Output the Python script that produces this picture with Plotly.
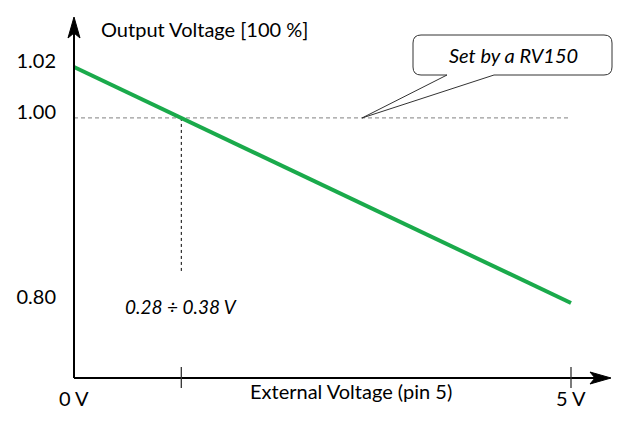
import plotly.graph_objects as go

# values (schematic scale)
ext_voltage = [0, 5]            # V, start / end of the characteristic
out_level = [1.02, 0.80]        # output voltage relative to nominal
set_level = 0.9725              # level drawn for the RV150 set point
guide_bottom = 0.828            # lower end of the vertical guide
x_tick_vals = [0, 5]
x_tick_text = ["0 V", "5 V"]
y_tick_text = ["1.02", "1.00", "0.80"]
set_range_text = "0.28 ÷ 0.38 V"
callout_text = "Set by a RV150"

# where the characteristic crosses the set level
frac = (out_level[0] - set_level) / (out_level[0] - out_level[1])
x_set = ext_voltage[0] + frac * (ext_voltage[1] - ext_voltage[0])

# pixel frame of the drawing (page body adds an 8px margin)
W, H, PAGE = 628, 422, 8
L, R, T, B = 64, 620, 10, 420
X0_PX, VPX = 74, 99.4           # px of 0 V, px per volt
Y0_PX, UPX = 67, 1072.7         # px of 1.02 level, px per unit


def px_x(p):
    return (p - X0_PX) / VPX


def px_y(p):
    return out_level[0] - (p - Y0_PX) / UPX


FONT = "Lato"
GREEN = "#1aaa4b"

fig = go.Figure()

fig.add_trace(go.Scatter(x=[ext_voltage[0], ext_voltage[1]], y=[set_level, set_level],
                         mode="lines", line=dict(color="#9a9a9a", width=1.2, dash="4px,3px"),
                         hoverinfo="skip"))
fig.add_trace(go.Scatter(x=[x_set, x_set], y=[set_level, guide_bottom],
                         mode="lines", line=dict(color="#000000", width=1, dash="3px,3px"),
                         hoverinfo="skip"))
fig.add_trace(go.Scatter(x=ext_voltage, y=out_level, mode="lines",
                         line=dict(color=GREEN, width=4), hoverinfo="skip"))

shapes = []
axis_y_px = 378
# axes
shapes.append(dict(type="line", x0=px_x(74), x1=px_x(600), y0=px_y(axis_y_px), y1=px_y(axis_y_px),
                   line=dict(color="black", width=2)))
shapes.append(dict(type="line", x0=px_x(74), x1=px_x(74), y0=px_y(axis_y_px), y1=px_y(28),
                   line=dict(color="black", width=2)))


def head(tx, ty, dx, dy, ln=21, hw=6, notch=5):
    # stealth arrowhead, tip at (tx, ty) in px, pointing along (dx, dy)
    nx, ny = -dy, dx
    bx, by = tx - dx * ln, ty - dy * ln
    nbx, nby = tx - dx * (ln - notch), ty - dy * (ln - notch)
    pts = [(tx, ty), (bx + nx * hw, by + ny * hw), (nbx, nby), (bx - nx * hw, by - ny * hw)]
    p = "M " + " L ".join(f"{px_x(a)},{px_y(b)}" for a, b in pts) + " Z"
    return dict(type="path", path=p, fillcolor="black", line=dict(color="black", width=1))


shapes.append(head(611, axis_y_px, 1, 0))
shapes.append(head(74, 17, 0, -1))

# ticks on the x axis
for xv in [x_set, ext_voltage[1]]:
    shapes.append(dict(type="line", x0=xv, x1=xv, y0=px_y(367), y1=px_y(388),
                       line=dict(color="#333333", width=1.3)))

# callout box with pointer
bx0, bx1, by0, by1, r = 413, 612, 35, 75, 8
pts = [("M", bx0 + r, by0), ("L", bx1 - r, by0), ("Q", bx1, by0, bx1, by0 + r),
       ("L", bx1, by1 - r), ("Q", bx1, by1, bx1 - r, by1), ("L", 494, by1),
       ("L", 362, 118), ("L", 447, by1), ("L", bx0 + r, by1),
       ("Q", bx0, by1, bx0, by1 - r), ("L", bx0, by0 + r), ("Q", bx0, by0, bx0 + r, by0)]
path = ""
for seg in pts:
    c = seg[0]
    coords = seg[1:]
    parts = [f"{px_x(coords[i])},{px_y(coords[i + 1])}" for i in range(0, len(coords), 2)]
    path += f"{c} " + " ".join(parts) + " "
path += "Z"
shapes.append(dict(type="path", path=path, fillcolor="white", line=dict(color="#333333", width=1)))

annotations = [
    dict(x=px_x(99), y=px_y(29), text="Output Voltage [100 %]", xanchor="left", yanchor="middle",
         showarrow=False),
    dict(x=px_x(351), y=px_y(391), text="External Voltage (pin 5)", xanchor="center", yanchor="middle",
         showarrow=False),
    dict(x=x_set, y=px_y(306), text=f"<i>{set_range_text}</i>", xanchor="center", yanchor="middle",
         showarrow=False, font=dict(size=19)),
    dict(x=px_x(513), y=px_y(55), text=f"<i>{callout_text}</i>", xanchor="center", yanchor="middle",
         showarrow=False),
]
for xv, txt in zip(x_tick_vals, x_tick_text):
    annotations.append(dict(x=xv, y=px_y(398), text=txt, xanchor="center", yanchor="middle",
                            showarrow=False))

fig.update_layout(
    width=W - PAGE, height=H - PAGE,
    margin=dict(l=L - PAGE, r=W - R, t=T - PAGE, b=H - B),
    paper_bgcolor="white", plot_bgcolor="white",
    showlegend=False,
    font=dict(family=FONT, size=20, color="black"),
    shapes=shapes, annotations=annotations,
    xaxis=dict(range=[px_x(L), px_x(R)], showgrid=False, zeroline=False, showline=False,
               showticklabels=False, ticks=""),
    yaxis=dict(range=[px_y(B), px_y(T)], showgrid=False, zeroline=False, showline=False,
               tickvals=[out_level[0], set_level, out_level[1]], ticktext=y_tick_text,
               ticks="", ticklabelstandoff=7, ticklabelshift=-6),
)

fig.write_html("out.html")
